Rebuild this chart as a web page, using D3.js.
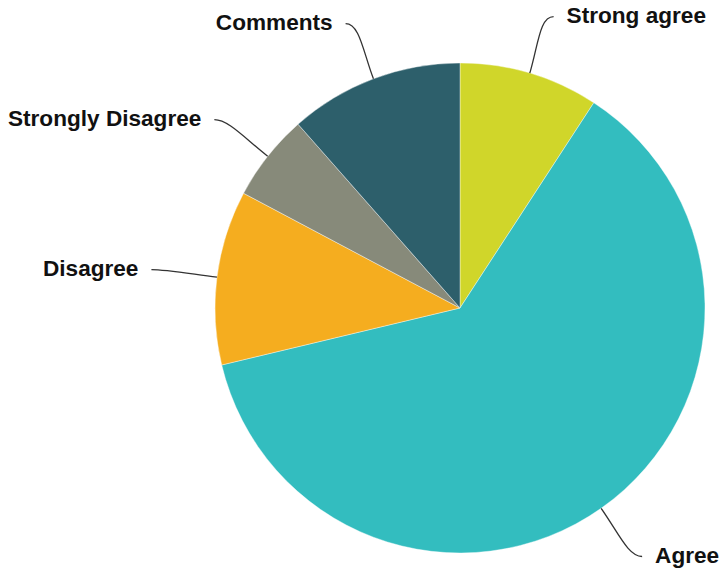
<!DOCTYPE html>
<html>
<head>
<meta charset="utf-8">
<script src="https://cdn.jsdelivr.net/npm/d3@7"></script>
<style>
  html, body { margin: 0; padding: 0; background: #fff; }
  svg { display: block; }
</style>
</head>
<body>
<svg id="chart" width="722" height="569"></svg>
<script>
// Survey responses, in drawing order (clockwise from 12 o'clock)
const categories = ["Strong agree", "Agree", "Disagree", "Strongly Disagree", "Comments"];
const counts = [8, 54, 10, 5, 10];
const colors = ["#d0d62a", "#33bdbf", "#f5ad1f", "#878a7a", "#2d5f6b"];

const width = 722, height = 569;
const cx = 460, cy = 308, radius = 245;
const labelRadius = 304;   // where the connector's tail starts
const tail = 7;            // horizontal tail length of the connector
const textGap = 13;        // space between connector end and label

const svg = d3.select("#chart");
const g = svg.append("g").attr("transform", `translate(${cx},${cy})`);

const color = d3.scaleOrdinal().domain(categories).range(colors);

const data = categories.map((c, i) => ({ label: c, value: counts[i] }));
const pie = d3.pie().sort(null).value(d => d.value);
const arcs = pie(data);

const arc = d3.arc().innerRadius(0).outerRadius(radius);

g.selectAll("path.slice")
  .data(arcs)
  .join("path")
  .attr("class", "slice")
  .attr("d", arc)
  .attr("fill", d => color(d.data.label))
  .attr("stroke", "#ffffff")
  .attr("stroke-width", 0.4);

// Leader lines: leave the rim radially, then bend into a short horizontal tail
function polar(r, a) { return [r * Math.sin(a), -r * Math.cos(a)]; }

const leaders = arcs.map(d => {
  const mid = (d.startAngle + d.endAngle) / 2;
  const side = Math.sin(mid) >= 0 ? 1 : -1;
  const p0 = polar(radius, mid);
  const p1 = polar(radius + 30, mid);
  const bend = polar(labelRadius, mid);
  const end = [bend[0] + side * tail, bend[1]];
  const p2 = [end[0] - side * 14, end[1]];
  return { d, mid, p0, p1, p2, end, side };
});

g.selectAll("path.leader")
  .data(leaders)
  .join("path")
  .attr("class", "leader")
  .attr("fill", "none")
  .attr("stroke", "#333")
  .attr("stroke-width", 1.3)
  .attr("d", l => `M${l.p0[0]},${l.p0[1]} C${l.p1[0]},${l.p1[1]} ${l.p2[0]},${l.p2[1]} ${l.end[0]},${l.end[1]}`);

g.selectAll("text.label")
  .data(leaders)
  .join("text")
  .attr("class", "label")
  .attr("x", l => l.end[0] + l.side * textGap)
  .attr("y", l => l.end[1])
  .attr("dy", "0.3em")
  .attr("text-anchor", l => l.side > 0 ? "start" : "end")
  .attr("font-family", "'Liberation Sans', Arial, sans-serif")
  .attr("font-weight", "bold")
  .attr("font-size", 22.6)
  .attr("fill", "#111")
  .text(l => l.d.data.label);
</script>
</body>
</html>
